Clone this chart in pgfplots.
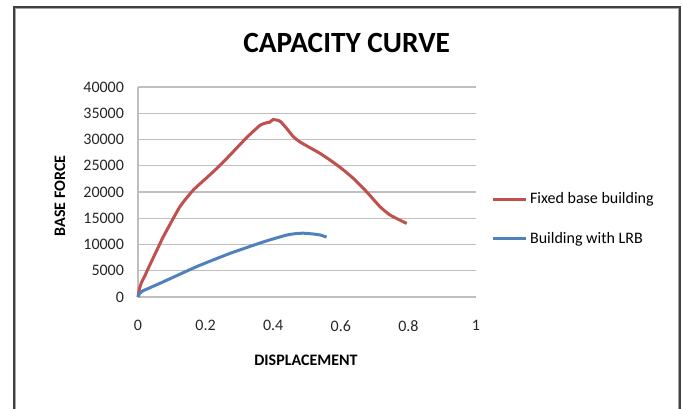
\documentclass[border=0pt]{standalone}
\usepackage{pgfplots}
\pgfplotsset{compat=1.18}
\usepackage{fontspec}
\setmainfont{Carlito}
\definecolor{redc}{HTML}{C0504D}
\definecolor{bluec}{HTML}{4F81BD}
\definecolor{gridc}{HTML}{BFBFBF}
\begin{document}
\begin{tikzpicture}
\useasboundingbox (0pt,0pt) rectangle (512.25pt,306pt);
% outer chart frame
\draw[black!75, line width=1.1pt] (10.5pt,-8pt) -- (10.5pt,300.75pt) -- (510pt,300.75pt) -- (510pt,-8pt);
\draw[black!35, line width=0.6pt] (11.85pt,-8pt) -- (11.85pt,299.4pt) -- (508.65pt,299.4pt) -- (508.65pt,-8pt);
\node[font=\bfseries\fontsize{22}{26}\selectfont] at (260pt,273.75pt) {CAPACITY CURVE};
\node[font=\bfseries\fontsize{12}{14}\selectfont, rotate=90] at (45pt,159pt) {BASE FORCE};
\node[font=\bfseries\fontsize{12}{14}\selectfont] at (229.5pt,36pt) {DISPLACEMENT};
\begin{axis}[
  at={(103.5pt,83.25pt)}, anchor=south west,
  scale only axis, width=253.5pt, height=157.5pt,
  xmin=0, xmax=1, ymin=0, ymax=40000,
  xtick={0,0.2,0.4,0.6,0.8,1},
  ytick={0,5000,...,40000},
  scaled ticks=false,
  /pgf/number format/1000 sep={},
  /pgf/number format/assume math mode=true,
  tick label style={font=\fontsize{12}{14}\selectfont, black!85},
  xticklabel style={yshift=-14pt},
  yticklabel style={xshift=-7pt},
  axis lines=left,
  axis line style={gridc, line width=1pt, -},
  major tick length=0pt,
  ymajorgrids,
  grid style={gridc, line width=1pt},
  legend style={at={(1.045,0.371)}, anchor=west, draw=none, fill=none,
    font=\fontsize{12}{14}\selectfont, row sep=16pt, inner sep=0pt,
    cells={anchor=west}},
  legend image code/.code={\draw[#1, line width=2.25pt] (0pt,0pt) -- (24.75pt,0pt);},
  clip=false,
]
\addplot[redc, line width=2.25pt, smooth, tension=0.3] coordinates {
(0,0) (0.004,1500) (0.01,2700) (0.02,4000) (0.035,6100) (0.055,8800) (0.075,11500)
(0.124,17200) (0.164,20400) (0.203,22700) (0.243,25100) (0.282,27700)
(0.322,30400) (0.361,32700) (0.381,33200) (0.39,33300) (0.40,33800)
(0.42,33500) (0.44,32100) (0.46,30500) (0.48,29500) (0.51,28400)
(0.54,27300) (0.57,26000) (0.60,24600) (0.637,22600) (0.677,20000)
(0.716,17200) (0.746,15600) (0.795,14000)
};
\addlegendentry{Fixed base building}
\addplot[bluec, line width=2.25pt, smooth, tension=0.3] coordinates {
(0,0) (0.005,700) (0.015,1200) (0.026,1500) (0.075,2900) (0.174,5800)
(0.272,8300) (0.371,10500) (0.44,11800) (0.47,12100) (0.49,12150)
(0.519,12000) (0.54,11800) (0.558,11400)
};
\addlegendentry{Building with LRB}
\end{axis}
\end{tikzpicture}
\end{document}
